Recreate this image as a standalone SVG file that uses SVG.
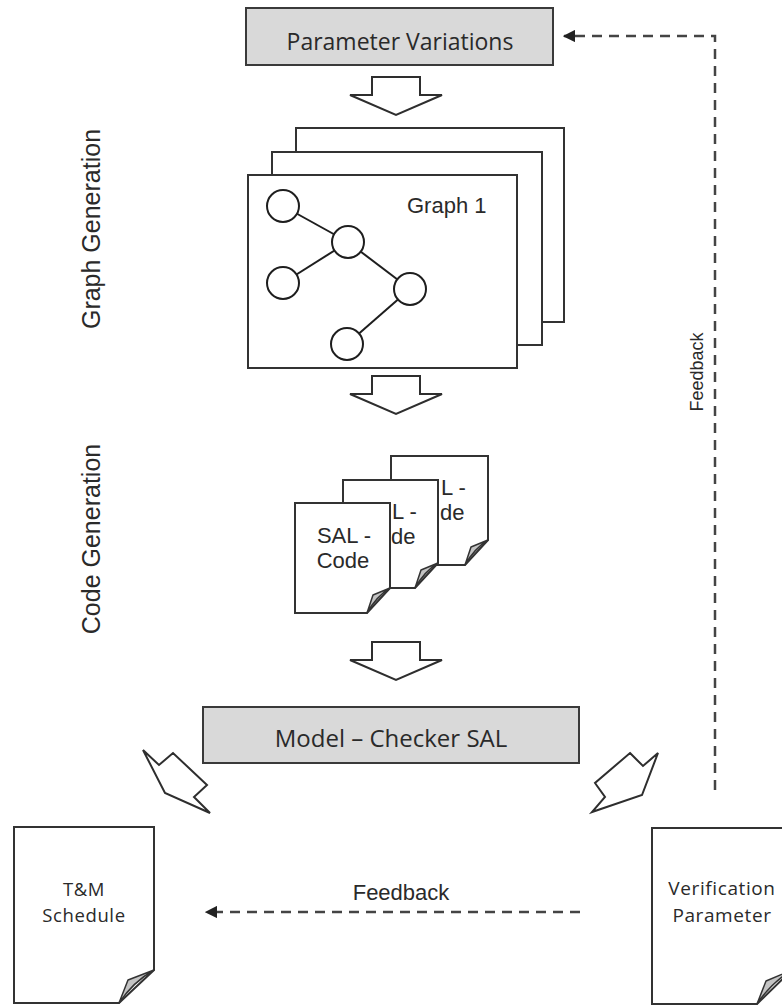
<svg xmlns="http://www.w3.org/2000/svg" xmlns:xlink="http://www.w3.org/1999/xlink" width="782" height="1005" viewBox="0 0 782 1005">
  <style>
    .box { fill: #d9d9d9; stroke: #3a3a3a; stroke-width: 2; }
    .sheet { fill: #ffffff; stroke: #333333; stroke-width: 2; }
    .page { fill: #ffffff; stroke: #333333; stroke-width: 2; stroke-linejoin: miter; }
    .fold { fill: #c4c4c4; stroke: #333333; stroke-width: 1.5; stroke-linejoin: round; }
    .blk { fill: #ffffff; stroke: #2e2e2e; stroke-width: 2; stroke-linejoin: miter; }
    .node { fill: #ffffff; stroke: #1e1e1e; stroke-width: 2; }
    .edge { stroke: #1e1e1e; stroke-width: 2; }
    .dash { fill: none; stroke: #444444; stroke-width: 2.5; stroke-dasharray: 10 7; }
    .cal { font-family: "Open Sans", "Liberation Sans", sans-serif; fill: #2a2a2a; }
    .hel { font-family: "Liberation Sans", Arial, sans-serif; fill: #2a2a2a; }
  </style>
  <defs>
    <!-- hollow block arrow pointing down, origin at top centre of shaft -->
    <path id="downArrow" d="M -24 0 H 24 V 18 H 46 L 0 38 L -46 18 H -24 Z"/>
    <marker id="head" viewBox="0 0 10 10" refX="9" refY="5" markerWidth="5" markerHeight="5" orient="auto-start-reverse" markerUnits="strokeWidth">
      <path d="M 0 0 L 10 5 L 0 10 Z" fill="#222222"/>
    </marker>
  </defs>

  <!-- side labels -->
  <text class="hel" font-size="25" text-anchor="middle" transform="translate(100,229) rotate(-90)">Graph Generation</text>
  <text class="hel" font-size="25" text-anchor="middle" transform="translate(100,539) rotate(-90)">Code Generation</text>

  <!-- parameter variations -->
  <g id="param-variations">
    <rect class="box" x="246" y="8" width="307" height="57"/>
    <text class="cal" x="400" y="50" font-size="23" text-anchor="middle">Parameter Variations</text>
  </g>

  <!-- stack of generated graphs -->
  <g id="graph-stack">
    <rect class="sheet" x="296" y="128" width="268" height="194"/>
    <rect class="sheet" x="272" y="152" width="270" height="193"/>
    <rect class="sheet" x="248" y="175" width="269" height="193"/>
    <text class="hel" x="407" y="213" font-size="22">Graph 1</text>
    <line class="edge" x1="283" y1="206" x2="348" y2="242"/>
    <line class="edge" x1="348" y1="242" x2="283" y2="283"/>
    <line class="edge" x1="348" y1="242" x2="410" y2="289"/>
    <line class="edge" x1="410" y1="289" x2="347" y2="344"/>
    <circle class="node" cx="283" cy="206" r="16"/>
    <circle class="node" cx="348" cy="242" r="16"/>
    <circle class="node" cx="283" cy="283" r="16"/>
    <circle class="node" cx="410" cy="289" r="16"/>
    <circle class="node" cx="347" cy="344" r="16"/>
  </g>

  <!-- generated SAL code files, each one partly covering the one behind -->
  <g id="sal-code">
    <path class="page" d="M 391 456 H 488 V 540 L 465 565 H 391 Z"/>
    <path class="fold" d="M 465 565 L 471 547 L 488 540 Q 474 549 465 565 Z"/>
    <text class="hel" font-size="22"><tspan x="441" y="495">L -</tspan><tspan x="440" y="520">de</tspan></text>

    <path class="page" d="M 343 480 H 438 V 563 L 415 588 H 343 Z"/>
    <path class="fold" d="M 415 588 L 421 570 L 438 563 Q 424 572 415 588 Z"/>
    <text class="hel" font-size="22"><tspan x="392" y="519">L -</tspan><tspan x="391" y="544">de</tspan></text>

    <path class="page" d="M 295 503 H 390 V 588 L 367 613 H 295 Z"/>
    <path class="fold" d="M 367 613 L 373 595 L 390 588 Q 376 597 367 613 Z"/>
    <text class="hel" font-size="22" text-anchor="middle"><tspan x="344" y="543">SAL -</tspan><tspan x="343" y="568">Code</tspan></text>
  </g>

  <!-- model checker -->
  <g id="model-checker">
    <rect class="box" x="203" y="707" width="376" height="56"/>
    <text class="cal" x="391" y="747" font-size="24" text-anchor="middle">Model – Checker SAL</text>
  </g>

  <!-- T&M schedule document -->
  <g id="tm-schedule">
    <path class="page" d="M 14 827 H 154 V 970 L 119 1003 H 14 Z"/>
    <path class="fold" d="M 119 1003 L 128 980 L 154 970 Q 133 982 119 1003 Z"/>
    <text class="cal" font-size="18.5" text-anchor="middle" letter-spacing="0.6"><tspan x="84" y="896">T&amp;M</tspan><tspan x="84" y="922">Schedule</tspan></text>
  </g>

  <!-- verification parameter document -->
  <g id="verification-parameter">
    <path class="page" d="M 652 828 H 792 V 970 L 757 1004 H 652 Z"/>
    <path class="fold" d="M 757 1004 L 766 981 L 792 970 Q 771 983 757 1004 Z"/>
    <text class="cal" font-size="19" text-anchor="middle" letter-spacing="0.6"><tspan x="722" y="895">Verification</tspan><tspan x="722" y="922">Parameter</tspan></text>
  </g>

  <!-- connectors -->
  <g id="connectors">
    <use xlink:href="#downArrow" class="blk" x="396" y="77"/>
    <use xlink:href="#downArrow" class="blk" x="396" y="376"/>
    <use xlink:href="#downArrow" class="blk" x="396" y="642"/>
    <!-- to T&M schedule -->
    <polygon class="blk" points="143,750 159,765 173,753 207,785 194,797 210,813 165,793"/>
    <!-- to verification parameter -->
    <polygon class="blk" points="630,753 643,766 658,753 642,795 592,812 605,797 595,783"/>
    <!-- feedback loops -->
    <path class="dash" d="M 715 790 V 36 H 564" marker-end="url(#head)"/>
    <path class="dash" d="M 580 912 H 206" marker-end="url(#head)"/>
    <text class="hel" x="401" y="900" font-size="22" text-anchor="middle">Feedback</text>
    <text class="hel" font-size="18" text-anchor="middle" transform="translate(703,372) rotate(-90)">Feedback</text>
  </g>
</svg>
